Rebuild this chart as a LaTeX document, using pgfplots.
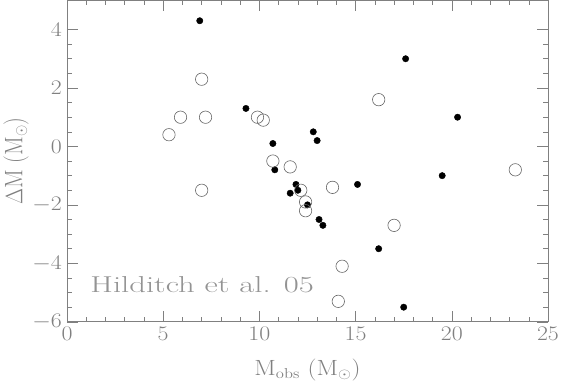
\documentclass[border=0pt]{standalone}
\usepackage{pgfplots}
\pgfplotsset{compat=1.18}
\usetikzlibrary{calc}
\definecolor{axgray}{gray}{0.5}
\definecolor{txtgray}{gray}{0.5}
\definecolor{opengray}{gray}{0.4}

\begin{document}
\begin{tikzpicture}
  \begin{axis}[
    scale only axis,
    width=481pt, height=321.5pt,
    xmin=0, xmax=25, ymin=-6, ymax=5,
    xtick={0,5,...,25}, ytick={-6,-4,...,4},
    minor x tick num=4, minor y tick num=3,
    tick align=inside,
    major tick length=11pt, minor tick length=5pt,
    axis line style={axgray, line width=0.6pt},
    every tick/.style={axgray, line width=0.5pt},
    tick label style={txtgray, font=\fontsize{21}{23}\selectfont, xscale=1.15},
    xticklabel style={yshift=-2pt},
    yticklabel style={xshift=-1pt},
    label style={txtgray, font=\fontsize{22}{24}\selectfont},
    xlabel={M$_{\rm obs}$ (M$_\odot$)},
    ylabel={$\Delta$M (M$_\odot$)},
    xlabel style={at={(axis description cs:0.5,-0.149)}, anchor=center, xscale=1.15},
    ylabel style={at={(axis description cs:-0.106,0.5)}, anchor=center, yscale=1.15},
    clip=false
  ]

  % systemes detaches : points pleins
  \addplot[only marks, mark=*, mark size=3.2pt, black] coordinates {
    (6.9,4.3) (9.3,1.3) (12.8,0.5) (13.0,0.2) (10.7,0.1) (10.8,-0.8)
    (11.9,-1.3) (15.1,-1.3) (11.6,-1.6) (12.0,-1.5) (12.5,-2.0)
    (13.1,-2.5) (13.3,-2.7) (16.2,-3.5) (17.5,-5.5) (17.6,3.0)
    (20.3,1.0) (19.5,-1.0)
  };

  % Hilditch et al. 05 : cercles vides
  \addplot[only marks, mark=o, mark size=6.2pt, opengray,
    mark options={line width=0.6pt}] coordinates {
    (5.3,0.4) (5.9,1.0) (7.0,2.3) (7.2,1.0) (9.9,1.0) (10.2,0.9)
    (10.7,-0.5) (11.6,-0.7) (7.0,-1.5) (12.15,-1.5) (13.8,-1.4)
    (12.4,-1.9) (12.4,-2.2) (14.3,-4.1) (14.1,-5.3) (17.0,-2.7)
    (16.2,1.6) (23.3,-0.8)
  };

  \node[anchor=base west, txtgray!85, xscale=1.42, inner sep=0pt,
    font=\fontsize{23}{25}\selectfont] at (axis cs:1.2,-5.0) {Hilditch et al. 05};

  \coordinate (sw) at (rel axis cs:0,0);
  \coordinate (ne) at (rel axis cs:1,1);
  \end{axis}
  \pgfresetboundingbox
  \path ($(sw)+(-67pt,-59pt)$) rectangle ($(ne)+(14pt,0.3pt)$);
\end{tikzpicture}
\end{document}
